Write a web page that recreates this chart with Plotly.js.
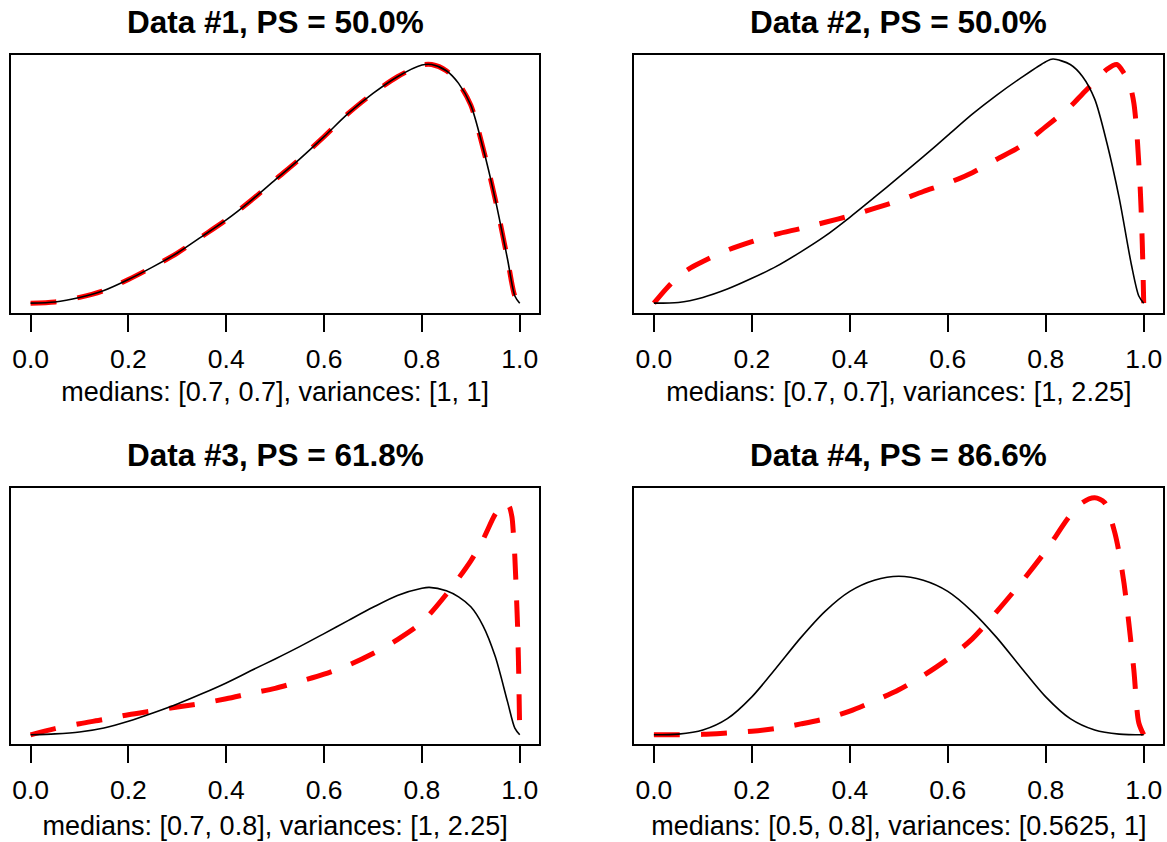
<!DOCTYPE html>
<html>
<head>
<meta charset="utf-8">
<script src="https://cdn.plot.ly/plotly-3.0.1.min.js"></script>
<style>html,body{margin:0;padding:0;background:#fff;}#chart{width:1167px;height:842px;}</style>
</head>
<body>
<div id="chart"></div>
<script>
// ---- Data ----
const panelTitles = ["Data #1, PS = 50.0%", "Data #2, PS = 50.0%", "Data #3, PS = 61.8%", "Data #4, PS = 86.6%"];
const panelXLabels = [
  "medians: [0.7, 0.7], variances: [1, 1]",
  "medians: [0.7, 0.7], variances: [1, 2.25]",
  "medians: [0.7, 0.8], variances: [1, 2.25]",
  "medians: [0.5, 0.8], variances: [0.5625, 1]"
];
const tickValues = [0, 0.2, 0.4, 0.6, 0.8, 1.0];
const tickLabels = ["0.0", "0.2", "0.4", "0.6", "0.8", "1.0"];

// Panel 1 (both curves coincide)
const p1BlackX = [0, 0.05, 0.1, 0.15, 0.2, 0.25, 0.3, 0.35, 0.4, 0.45, 0.5, 0.55, 0.6, 0.65, 0.7, 0.75, 0.8, 0.82, 0.85, 0.875, 0.9, 0.925, 0.95, 0.975, 0.99, 1.0];
const p1Black  = [0, 0.005, 0.024, 0.053, 0.099, 0.152, 0.210, 0.279, 0.349, 0.429, 0.517, 0.604, 0.698, 0.796, 0.879, 0.949, 0.998, 1.0, 0.974, 0.921, 0.830, 0.650, 0.435, 0.185, 0.03, 0];
const p1RedX   = [0, 0.05, 0.1, 0.15, 0.2, 0.25, 0.3, 0.35, 0.4, 0.45, 0.5, 0.55, 0.6, 0.65, 0.7, 0.75, 0.8, 0.82, 0.85, 0.875, 0.9, 0.925, 0.95, 0.975, 0.99, 1.0];
const p1Red    = [0, 0.005, 0.024, 0.053, 0.099, 0.152, 0.210, 0.279, 0.349, 0.429, 0.517, 0.604, 0.698, 0.796, 0.879, 0.949, 0.998, 1.0, 0.974, 0.921, 0.830, 0.650, 0.435, 0.185, 0.03, 0];

// Panel 2
const p2BlackX = [0, 0.05, 0.1, 0.15, 0.2, 0.25, 0.3, 0.35, 0.4, 0.45, 0.5, 0.55, 0.6, 0.65, 0.7, 0.75, 0.8, 0.815, 0.85, 0.875, 0.9, 0.925, 0.95, 0.975, 0.99, 1.0];
const p2Black  = [0, 0.003, 0.024, 0.059, 0.104, 0.154, 0.215, 0.282, 0.360, 0.443, 0.528, 0.614, 0.703, 0.792, 0.872, 0.945, 1.012, 1.023, 1.0, 0.95, 0.855, 0.67, 0.44, 0.16, 0.03, 0];
const p2RedX   = [0, 0.025, 0.05, 0.075, 0.1, 0.15, 0.2, 0.25, 0.3, 0.35, 0.4, 0.45, 0.5, 0.55, 0.6, 0.65, 0.7, 0.75, 0.8, 0.85, 0.875, 0.9, 0.925, 0.945, 0.96, 0.97, 0.975, 0.98, 0.985, 0.99, 0.993, 0.996, 0.998, 1.0];
const p2Red    = [0, 0.06, 0.112, 0.148, 0.175, 0.222, 0.258, 0.289, 0.313, 0.339, 0.366, 0.397, 0.430, 0.468, 0.503, 0.547, 0.603, 0.659, 0.740, 0.824, 0.877, 0.928, 0.980, 1.0, 0.963, 0.921, 0.89, 0.837, 0.740, 0.586, 0.475, 0.321, 0.182, 0];

// Panel 3
const p3BlackX = [0, 0.05, 0.1, 0.15, 0.2, 0.25, 0.3, 0.35, 0.4, 0.45, 0.5, 0.55, 0.6, 0.65, 0.7, 0.75, 0.8, 0.815, 0.85, 0.875, 0.9, 0.925, 0.95, 0.975, 0.99, 1.0];
const p3Black  = [0, 0.004, 0.012, 0.029, 0.057, 0.092, 0.130, 0.173, 0.219, 0.270, 0.320, 0.372, 0.427, 0.483, 0.538, 0.588, 0.618, 0.622, 0.608, 0.582, 0.540, 0.46, 0.33, 0.14, 0.028, 0];
const p3RedX   = [0, 0.05, 0.1, 0.15, 0.2, 0.25, 0.3, 0.35, 0.4, 0.45, 0.5, 0.55, 0.6, 0.65, 0.7, 0.75, 0.8, 0.85, 0.9, 0.925, 0.95, 0.968, 0.978, 0.984, 0.987, 0.990, 0.993, 0.996, 0.998, 1.0];
const p3Red    = [0, 0.026, 0.047, 0.065, 0.085, 0.101, 0.117, 0.133, 0.152, 0.175, 0.196, 0.225, 0.256, 0.294, 0.343, 0.402, 0.475, 0.593, 0.734, 0.824, 0.931, 0.978, 0.965, 0.92, 0.85, 0.75, 0.6, 0.43, 0.25, 0];

// Panel 4
const p4BlackX = [0, 0.05, 0.1, 0.15, 0.2, 0.25, 0.3, 0.35, 0.4, 0.45, 0.5, 0.55, 0.6, 0.65, 0.7, 0.75, 0.8, 0.85, 0.9, 0.95, 1.0];
const p4Black  = [0, 0.003, 0.02, 0.068, 0.16, 0.283, 0.41, 0.522, 0.605, 0.652, 0.669, 0.652, 0.605, 0.52, 0.41, 0.283, 0.16, 0.068, 0.02, 0.003, 0];
const p4RedX   = [0, 0.05, 0.1, 0.15, 0.2, 0.25, 0.3, 0.35, 0.4, 0.45, 0.5, 0.55, 0.6, 0.65, 0.7, 0.75, 0.8, 0.85, 0.875, 0.9, 0.92, 0.94, 0.95, 0.96, 0.97, 0.98, 0.99, 1.0];
const p4Red    = [0, 0.0, 0.002, 0.008, 0.015, 0.027, 0.046, 0.068, 0.1, 0.143, 0.19, 0.25, 0.32, 0.405, 0.52, 0.643, 0.776, 0.926, 0.98, 1.0, 0.98, 0.86, 0.765, 0.637, 0.465, 0.27, 0.05, 0];

// ---- Build traces ----
const series = [
  {bx: p1BlackX, b: p1Black, rx: p1RedX, r: p1Red},
  {bx: p2BlackX, b: p2Black, rx: p2RedX, r: p2Red},
  {bx: p3BlackX, b: p3Black, rx: p3RedX, r: p3Red},
  {bx: p4BlackX, b: p4Black, rx: p4RedX, r: p4Red}
];
const traces = [];
series.forEach((s, i) => {
  const xa = i === 0 ? 'x' : 'x' + (i + 1);
  const ya = i === 0 ? 'y' : 'y' + (i + 1);
  traces.push({x: s.rx, y: s.r, xaxis: xa, yaxis: ya, type: 'scatter', mode: 'lines',
    line: {color: '#ff0000', width: 5, dash: '26px,21px', shape: 'spline', smoothing: 0.8},
    hoverinfo: 'skip', showlegend: false});
  traces.push({x: s.bx, y: s.b, xaxis: xa, yaxis: ya, type: 'scatter', mode: 'lines',
    line: {color: '#000000', width: 1.6, shape: 'spline', smoothing: 0.8},
    hoverinfo: 'skip', showlegend: false});
});

const W = 1167, H = 842;
const xDomains = [[11 / W, 539.3 / W], [634.3 / W, 1163.3 / W]];
const yDomains = [[1 - 312.7 / H, 1 - 55 / H], [1 - 744.3 / H, 1 - 488.3 / H]];
const FONT = 'Liberation Sans, Arial, Helvetica, sans-serif';

const layout = {
  width: W, height: H,
  margin: {l: 0, r: 0, t: 0, b: 0},
  paper_bgcolor: '#ffffff', plot_bgcolor: '#ffffff',
  font: {family: FONT, color: '#000000'},
  showlegend: false,
  annotations: []
};
for (let i = 0; i < 4; i++) {
  const col = i % 2, row = Math.floor(i / 2);
  const suf = i === 0 ? '' : String(i + 1);
  layout['xaxis' + suf] = {
    domain: xDomains[col], anchor: 'y' + suf, range: [-0.04, 1.04],
    tickmode: 'array', tickvals: tickValues, ticktext: tickLabels,
    ticks: 'outside', ticklen: 17, tickwidth: 2, tickcolor: '#000',
    ticklabelstandoff: 4,
    showline: true, mirror: true, linecolor: '#000', linewidth: 2,
    showgrid: false, zeroline: false, fixedrange: true,
    tickfont: {size: 26.5, family: FONT, color: '#000'},
    title: {text: panelXLabels[i], font: {size: 27, family: FONT, color: '#000'}, standoff: row === 0 ? 10 : 12}
  };
  layout['yaxis' + suf] = {
    domain: yDomains[row], anchor: 'x' + suf, range: [-0.04, 1.04],
    showticklabels: false, ticks: '', showline: true, mirror: true,
    linecolor: '#000', linewidth: 2, showgrid: false, zeroline: false, fixedrange: true
  };
  layout.annotations.push({
    text: '<b>' + panelTitles[i] + '</b>', xref: 'paper', yref: 'paper',
    x: (xDomains[col][0] + xDomains[col][1]) / 2, y: row === 0 ? 1 - 22 / H : 1 - 455 / H,
    xanchor: 'center', yanchor: 'middle', showarrow: false,
    font: {size: 31.5, family: FONT, color: '#000'}
  });
}

Plotly.newPlot('chart', traces, layout, {staticPlot: true, displayModeBar: false});
</script>
</body>
</html>
